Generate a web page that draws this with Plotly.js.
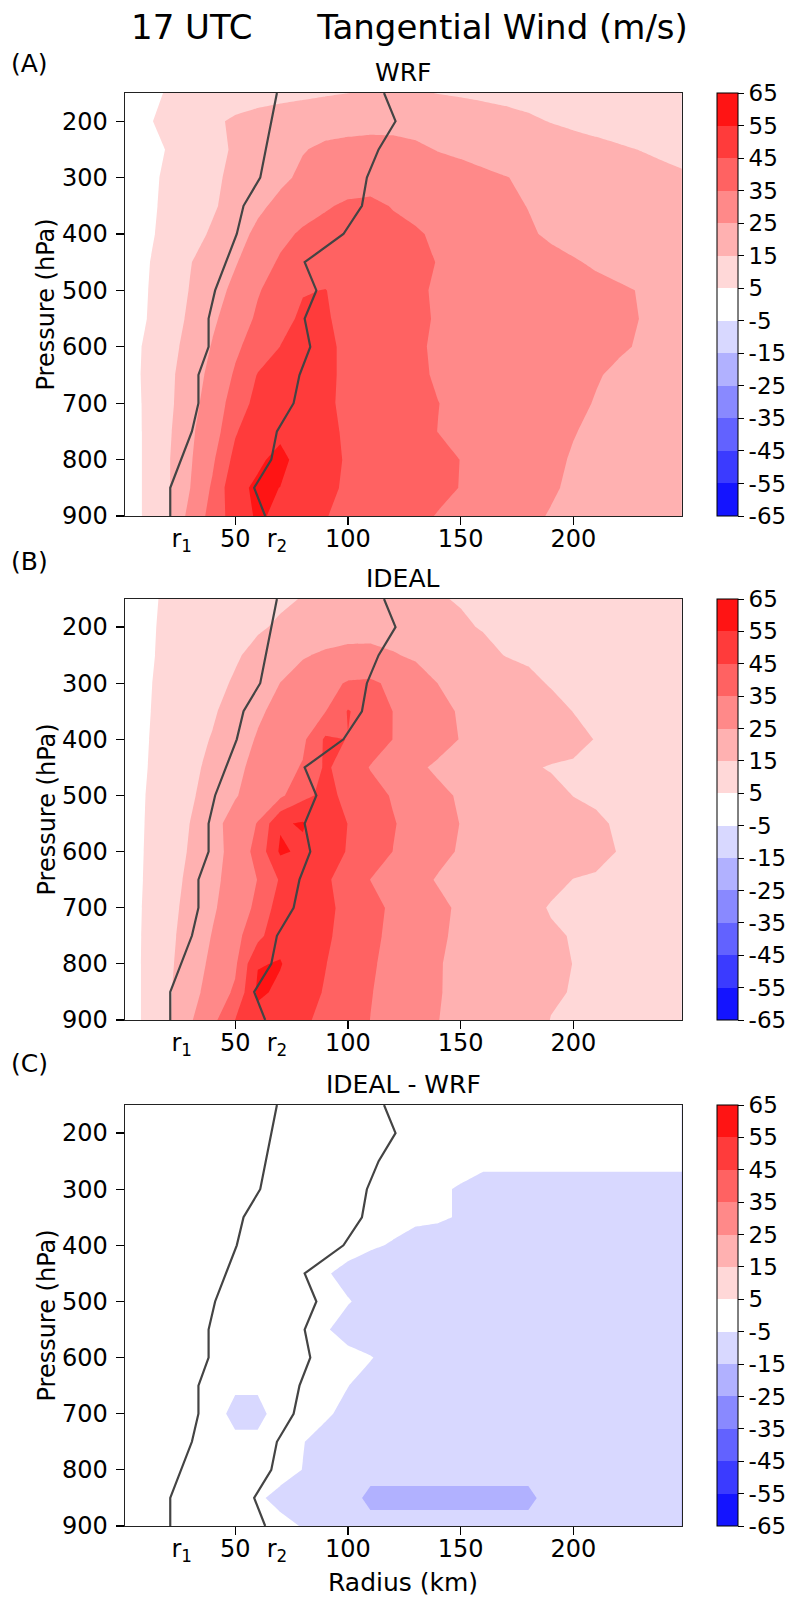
<!DOCTYPE html>
<html><head><meta charset="utf-8">
<script src="https://cdn.plot.ly/plotly-3.0.1.min.js"></script>
<style>html,body{margin:0;padding:0;background:#fff;} #chart{width:792px;height:1598px;}</style>
</head><body><div id="chart"></div>
<script>
const radius = [0,10,20,30,40,50,60,70,80,90,100,110,120,130,140,150,160,170,180,190,200,210,220,230,240,250];
const pressure = [150,200,250,300,350,400,450,500,550,600,650,700,750,800,850,900];

const windWRF = [
[0,2.8,5.55,7,8.5,10,11,12,13,14,14.9,16,16.5,16,14.75,14,13.3,12.6,12,11.4,10.8,10.2,9.6,9,8.4,7.8],
[0,3.9,7,10.2,13.3,16.4,18.5,20,21,22,22.5,23,23,22.5,21.5,20.5,19,17.8,16.3,14.7,13.5,12.5,11.5,10.5,9.5,8.5],
[0,1.8,5.4,9,12.6,16,18.9,21.7,24.6,26.3,27,27.2,27,26.2,24.7,23.7,22.6,21.4,20.3,19.2,18.1,17,15.9,14.8,13.7,12.6],
[0,2.7,6.3,9.9,13.5,16.9,20.1,23.3,26.5,28.5,30,31,30.5,29.5,28.5,27.5,26.3,25.2,23.9,22.5,21.2,20,18.9,17.8,16.8,15.8],
[0,3,6.6,10.3,13.9,18.4,23.3,27.2,30.6,34,36.5,37,34.5,33,31.4,29.8,28.1,26.5,24.8,23.5,22.5,21.5,20.5,19.5,18.5,17.5],
[0,3.1,7.4,11.7,16.2,21.6,26.9,32.3,36.5,38.5,39,38.5,37.5,35.8,33.8,31.8,29.9,27.9,25.9,23.9,22.5,21.5,20.5,19.5,18.5,17.5],
[0,3.8,9.2,14.6,19.5,24.3,30.2,36.3,39.5,41,41.5,40.5,39,37,34.7,33.3,31.7,30.2,28.7,27.1,25.6,24.1,23,22,21,20],
[0,4.2,9.8,15.4,21.2,27.3,34.3,39,44.5,45.2,42.3,40.2,38.2,36.2,34.1,33.4,32.3,31.2,30.1,29.05,28,26.9,25.8,24.7,23.6,22.5],
[0,4.5,10.4,16.5,23.4,30,36.4,42.2,46.5,45.6,43.3,41.7,39.5,37.2,34,33.45,32.4,31.3,30.2,29.2,28.1,27,26,24.9,23.8,22.8],
[0,5.9,11.6,18.1,25.75,33.25,39.4,45.1,48.5,47,43,41.2,38.7,36.2,33.8,33.35,32.25,31.15,30.05,28.95,27.85,26.75,25.65,24.55,23.5,22.4],
[0,6.2,12.5,19.9,28,36.1,45.5,48.5,49,47,43,41.4,39,36.5,34.1,33.2,31.9,30.6,29.3,28,26.7,25.4,24.1,22.8,21.5,20.3],
[0,5.9,12.4,21.4,29.8,38.9,48.5,51,51,47,42.5,41.6,39.4,37.2,35.1,33.5,32.1,30.6,29.1,27.6,26.2,24.7,23.5,22.3,21.1,20],
[0,5.8,13,23.6,29.9,44,52,53,51,47.5,43.5,41.8,39.5,37.2,34.9,33.3,31.7,30.1,28.5,26.9,25.3,23.7,22.5,21.3,20.1,19],
[0,5.8,13.8,24,33.5,48,53.5,57.5,51.25,47.7,44.1,42.6,40.7,38.8,36.9,34.9,32.9,30.7,28.6,26.5,24.4,23.2,22,20.8,19.6,18.4],
[0,5.8,13.6,24.9,36.4,52.7,56.5,54.9,51.1,47.3,43.5,42.4,40.5,38.6,36.7,34.8,32.6,30.3,28.1,25.9,23.7,22.5,21.3,20.1,19,18],
[0,5.8,13.2,28.3,38.3,50.3,56.2,53.2,49.2,45.3,43,40.9,38.8,36.7,34.6,32.6,30.5,28.5,26.5,24.5,23.4,22.3,21.2,20.1,19,17.8]
];

const windIDEAL = [
[0,3.6,5.95,7.5,9.1,10.7,12.3,13.9,15.3,16.2,16.8,17,16.6,16,15.4,14.6,14,13.4,12.8,12.2,11.6,11,10.4,9.8,9.2,8.6],
[0,3.7,6.3,8.2,10.2,12.2,14.1,16,18.5,20.5,22,22.5,21.5,19.5,17.7,15.8,14.6,13.9,13.3,12.8,12.3,11.9,11.5,11.1,10.7,10.3],
[0,3.8,6.5,9.2,11.6,14.1,17.2,20.8,24.3,26.2,27,26.8,25.6,23.8,21.4,19,16.7,14.8,14.2,13.7,13.3,12.9,12.5,12.1,11.7,11.3],
[0,4,7.1,9.9,12.7,15.9,20.5,25.1,28.6,32.3,35.8,36.5,33.2,29.1,24.9,22.8,20.6,18.4,16.2,14.6,14.1,13.6,13.2,12.8,12.4,12],
[0,4.2,7.3,10.5,13.9,18.8,23.6,27.6,31.2,34.7,45.6,40.6,34.9,31.1,27.3,24.2,22.3,20.5,18.6,16.7,14.9,14.4,14,13.6,13.2,12.8],
[0,4.3,8.1,11.8,15.6,20.8,25.8,29.6,33,46.5,44.8,39.9,34.9,31.4,27.9,24.7,23,21.4,19.8,18.1,16.5,14.8,14.4,14,13.6,13.2],
[0,4.5,8.7,12.7,17.4,23,27.5,31.3,35.8,46.5,40.7,34.5,30.5,26.5,23.7,21.7,19.7,17.7,15.7,14.6,14.3,14,13.7,13.4,13.1,12.8],
[0,4.9,9.4,13.7,18.9,24.4,28.8,33,42.5,47.5,42.9,38.5,34.2,30.5,26.8,24.1,22.2,20.4,18.5,16.7,14.9,14.6,14.3,14,13.7,13.4],
[0,5.1,10,15.1,22.3,28.3,35.5,54,55.8,49.5,44.9,40.3,35.6,31.8,28.2,24.8,23.2,21.7,20.1,18.5,17,15.4,14.7,14.4,14.1,13.8],
[0,5.3,10.3,15.8,21.7,28.3,38.3,56.5,53.2,48.8,44.5,39.7,34.9,31,27,24.3,22.9,21.5,20.1,18.7,17.3,15.8,14.9,14.6,14.3,14],
[0,5.5,11.2,16.9,22.8,28.8,35.2,46,49,46.5,40.8,34.9,31.1,27.3,24.4,22.8,21.2,19.6,18,16.4,14.9,14.7,14.5,14.3,14.1,13.9],
[0,5.8,11.9,17.9,23.8,30,37,50,51,47,42.6,37.7,33.5,30.1,26.7,23.8,21.3,18.9,16.5,14.6,14.4,14.2,14,13.8,13.6,13.4],
[0,6,12.5,19,25.5,31.9,42,52.5,51,46.5,41.7,37,33,29.6,26.1,23.6,21.6,19.7,17.7,15.7,14.7,14.5,14.3,14.1,13.9,13.7],
[0,6.1,12.9,20.2,27.1,33.3,54.5,55.5,50,45.3,40.7,36.1,32.4,28.9,25.4,23.5,21.8,20,18.3,16.6,14.9,14.7,14.5,14.3,14.1,13.9],
[0,6.1,13.4,21.6,28.9,36.5,56.8,53.2,48.7,44.3,39.9,35.4,32,28.7,25.4,23.3,21.3,19.4,17.4,15.5,14.8,14.6,14.4,14.2,14,13.8],
[0,6.1,13.3,24,32.3,45.1,51.5,49.5,46.5,42.7,38.8,34.9,31.6,28.4,25.1,23.1,21.1,19.1,17,14.9,14.6,14.4,14.2,14,13.8,13.6]
];

const windDiff = [
[0,0,0,0,0,0,0,0,0,0,0,0,-0.5,-1,-1,-1.5,-1.5,-1.5,-2,-2,-2,-2,-2,-2,-2,-2],
[0,0,0,0,0,0,0,0,0,0,0,-0.5,-1,-1.5,-2,-2,-2,-2.5,-2.5,-2.5,-2.5,-2.5,-2.5,-2.5,-2.5,-2.5],
[0,0,0,0,0,0,0,0,-0.5,-0.5,-1,-1.5,-2,-2.5,-2.5,-3,-3.5,-3.5,-3.5,-3.5,-3.5,-3.5,-3.5,-3.5,-3.5,-3.5],
[0,0,0,0,0,0,0,-0.5,-1,-1.5,-2,-2.5,-3,-3.5,-4.2,-5.5,-7.5,-7.5,-7.5,-7.5,-7.5,-7.5,-7.5,-7.5,-7.5,-7.5],
[0,0,0,0,0,0,0,-0.5,-1,-1.5,-2,-2.5,-3,-3.5,-4.2,-5.5,-8,-8,-8,-8,-8,-8,-8,-8,-8,-8],
[0,0,0,0,0,0,-0.5,-1,-1.5,-2,-3,-4.2,-5.5,-8,-8,-8,-8,-8,-8,-8,-8,-8,-8,-8,-8,-8],
[0,0,0,0,0,0,-0.5,-1,-2.5,-4.5,-6.5,-8.5,-8.5,-8.5,-8.5,-8.5,-8.5,-8.5,-8.5,-8.5,-8.5,-8.5,-8.5,-8.5,-8.5,-8.5],
[0,0,0,0,0,0,-0.5,-1,-2,-3.5,-4.7,-6.5,-8.5,-8.5,-8.5,-8.5,-8.5,-8.5,-8.5,-8.5,-8.5,-8.5,-8.5,-8.5,-8.5,-8.5],
[0,0,0,0,0,-0.5,-1,-1.5,-2.5,-4.5,-7,-8.5,-8.5,-8.5,-8.5,-8.5,-8.5,-8.5,-8.5,-8.5,-8.5,-8.5,-8.5,-8.5,-8.5,-8.5],
[0,0,0,0,0,-1,-1,-1.5,-2.5,-3,-3.5,-4.7,-7,-8.5,-8.5,-8.5,-8.5,-8.5,-8.5,-8.5,-8.5,-8.5,-8.5,-8.5,-8.5,-8.5],
[0,0,0,0,-1,-4,-4,-2,-2.5,-3.5,-4.9,-7,-8.5,-8.5,-8.5,-8.5,-8.5,-8.5,-8.5,-8.5,-8.5,-8.5,-8.5,-8.5,-8.5,-8.5],
[0,0,0,-0.5,-2,-7,-7,-2,-2,-4.2,-6.5,-8.5,-8.5,-8.5,-8.5,-8.5,-8.5,-8.5,-8.5,-8.5,-8.5,-8.5,-8.5,-8.5,-8.5,-8.5],
[0,0,0,0,-1,-3.5,-3.5,-2.5,-4.8,-7,-8.5,-8.5,-8.5,-8.5,-8.5,-8.5,-8.5,-8.5,-8.5,-8.5,-8.5,-8.5,-8.5,-8.5,-8.5,-8.5],
[0,0,0,0,-0.5,-1,-2,-3,-5.1,-8,-9,-11,-11,-11,-11,-11,-11,-11,-11,-9,-8.5,-8.5,-8.5,-8.5,-8.5,-8.5],
[0,0,0,0,-0.5,-2,-4.2,-6.5,-8,-8.5,-10,-18,-18,-18,-18,-18,-18,-18,-18,-10,-8.5,-8.5,-8.5,-8.5,-8.5,-8.5],
[0,0,0,0,-0.5,-1,-2,-3.5,-5.3,-7.5,-8.5,-11,-11,-11,-11,-11,-11,-11,-11,-9,-8.5,-8.5,-8.5,-8.5,-8.5,-8.5]
];

const r1Radius = [68.5,66,63.6,61.1,53.7,50.7,45.9,41.1,38.2,38.2,33.7,33.7,30.8,26,21.2,21.2];
const r2Radius = [116,121.1,113.6,108.4,106.2,98,80.8,86,80.8,83.3,78.5,75.9,68.5,66,58.4,63.3];

const levels = [-65,-55,-45,-35,-25,-15,-5,5,15,25,35,45,55,65];
const bandColors = ['rgb(20,20,255)','rgb(59,59,255)','rgb(98,98,255)','rgb(137,137,255)','rgb(177,177,255)','rgb(216,216,255)','rgb(255,255,255)','rgb(255,216,216)','rgb(255,177,177)','rgb(255,137,137)','rgb(255,98,98)','rgb(255,59,59)','rgb(255,20,20)'];
const radiusTicks = [50,100,150,200];
const rMarkPos = [26.3,68.5];
const rMarkText = ['r<sub>1</sub>','r<sub>2</sub>'];
const pressureTicks = [200,300,400,500,600,700,800,900];
const panelTitles = ['WRF','IDEAL','IDEAL - WRF'];
const panelLabels = ['(A)','(B)','(C)'];
const mainTitle = '17 UTC\u00a0\u00a0\u00a0\u00a0\u00a0\u00a0Tangential Wind (m/s)';

const W = 792, H = 1598;
const FONT = 'DejaVu Sans, Liberation Sans, sans-serif';
const plotLeft = 124.7, plotRight = 681.7;
const panelTop = [93, 599, 1105], panelBottom = [516, 1020, 1526];
const labelCenterY = [63.7, 561, 1063];

// contour fill colorscale: band k colour sits at (k+1)/14 (Plotly contour colour map)
const contourScale = [[0, bandColors[0]]];
bandColors.forEach((c, k) => contourScale.push([(k + 1) / 14, c]));
contourScale.push([1, bandColors[bandColors.length - 1]]);
// stepped colorscale for the colour bar spanning exactly -65..65
const nB = bandColors.length;
const barScale = [];
bandColors.forEach((c, k) => { barScale.push([k / nB, c]); barScale.push([(k + 1) / nB, c]); });

const fields = [windWRF, windIDEAL, windDiff];
const data = [];
const layout = {
  width: W, height: H, margin: {l: 0, r: 0, t: 0, b: 0},
  paper_bgcolor: '#fff', plot_bgcolor: '#fff', showlegend: false,
  font: {family: FONT, color: '#000', size: 24},
  annotations: []
};
const py = (px) => 1 - px / H;

for (let i = 0; i < 3; i++) {
  const sx = i === 0 ? '' : String(i + 1);
  const xa = 'x' + sx, ya = 'y' + sx;
  const ovx = 'x' + (i + 4);
  const dom = [py(panelBottom[i]), py(panelTop[i])];
  const midY = (panelTop[i] + panelBottom[i]) / 2;

  data.push({
    type: 'contour', x: radius, y: pressure, z: fields[i],
    xaxis: xa, yaxis: ya, autocontour: false, showscale: false,
    contours: {start: -65, end: 65, size: 10, coloring: 'fill', showlines: false},
    line: {width: 0, smoothing: 0},
    colorscale: contourScale, hoverinfo: 'skip'
  });
  data.push({type: 'scatter', mode: 'lines', x: r1Radius, y: pressure, xaxis: xa, yaxis: ya,
    line: {color: '#444', width: 2.2}, hoverinfo: 'skip'});
  data.push({type: 'scatter', mode: 'lines', x: r2Radius, y: pressure, xaxis: xa, yaxis: ya,
    line: {color: '#444', width: 2.2}, hoverinfo: 'skip'});
  // colour bar carrier (point outside the visible range)
  data.push({type: 'scatter', mode: 'markers', x: [-500], y: [500], xaxis: xa, yaxis: ya,
    hoverinfo: 'skip', cliponaxis: true,
    marker: {size: 1, opacity: 0, color: [0], cmin: -65, cmax: 65, colorscale: barScale, showscale: true,
      colorbar: {
        x: 717 / W, xanchor: 'left', xpad: 0, y: py(midY), yanchor: 'middle', ypad: 0,
        len: (panelBottom[i] - panelTop[i]) / H, lenmode: 'fraction',
        thickness: 21, thicknessmode: 'pixels', outlinewidth: 1, outlinecolor: '#000',
        tickmode: 'array', tickvals: levels, ticktext: levels.map(String), ticks: 'outside', ticklen: 6,
        tickcolor: '#000', tickwidth: 1, tickfont: {family: FONT, size: 23, color: '#000'}
      }}});
  data.push({type: 'scatter', mode: 'markers', x: [rMarkPos[0]], y: [null], xaxis: ovx, yaxis: ya,
    marker: {opacity: 0}, hoverinfo: 'skip'});

  layout['xaxis' + sx] = {
    domain: [plotLeft / W, plotRight / W], anchor: ya, range: [1, 248],
    tickvals: radiusTicks, ticks: 'outside', ticklen: 8, tickwidth: 1.2, tickcolor: '#000',
    showline: true, linecolor: '#222', linewidth: 1.2, mirror: true,
    showgrid: false, zeroline: false, tickfont: {family: FONT, size: 24, color: '#000'},
    ticklabelstandoff: -7
  };
  layout['xaxis' + (i + 4)] = {
    overlaying: xa, anchor: ya, range: [1, 248],
    tickvals: rMarkPos, ticktext: rMarkText, ticks: 'outside', ticklen: 8, tickcolor: 'rgba(0,0,0,0)',
    showline: false, showgrid: false, zeroline: false, tickfont: {family: FONT, size: 24, color: '#000'},
    ticklabelstandoff: -7
  };
  layout['yaxis' + sx] = {
    domain: dom, anchor: xa, range: [900, 150],
    tickvals: pressureTicks, ticks: 'outside', ticklen: 8, tickwidth: 1.2, tickcolor: '#000',
    showline: true, linecolor: '#222', linewidth: 1.2, mirror: true,
    showgrid: false, zeroline: false, tickfont: {family: FONT, size: 24, color: '#000'},
    ticklabelstandoff: 3
  };

  layout.annotations.push({
    text: panelTitles[i], xref: 'paper', yref: 'paper', x: (plotLeft + plotRight) / 2 / W,
    y: py(panelTop[i] - 21), xanchor: 'center', yanchor: 'middle', showarrow: false,
    font: {family: FONT, size: 25, color: '#000'}
  });
  layout.annotations.push({
    text: panelLabels[i], xref: 'paper', yref: 'paper', x: 9 / W, y: py(labelCenterY[i]),
    xanchor: 'left', yanchor: 'middle', showarrow: false, font: {family: FONT, size: 25, color: '#000'}
  });
  layout.annotations.push({
    text: 'Pressure (hPa)', xref: 'paper', yref: 'paper', x: 46 / W, y: py(midY),
    xanchor: 'center', yanchor: 'middle', textangle: -90, showarrow: false,
    font: {family: FONT, size: 24, color: '#000'}
  });
}
layout.annotations.push({
  text: 'Radius (km)', xref: 'paper', yref: 'paper', x: (plotLeft + plotRight) / 2 / W, y: py(1582),
  xanchor: 'center', yanchor: 'middle', showarrow: false, font: {family: FONT, size: 25, color: '#000'}
});
layout.annotations.push({
  text: mainTitle, xref: 'paper', yref: 'paper', x: 410 / W, y: py(26.7),
  xanchor: 'center', yanchor: 'middle', showarrow: false, font: {family: FONT, size: 34, color: '#000'}
});

Plotly.newPlot('chart', data, layout, {staticPlot: true, displayModeBar: false});
</script></body></html>
